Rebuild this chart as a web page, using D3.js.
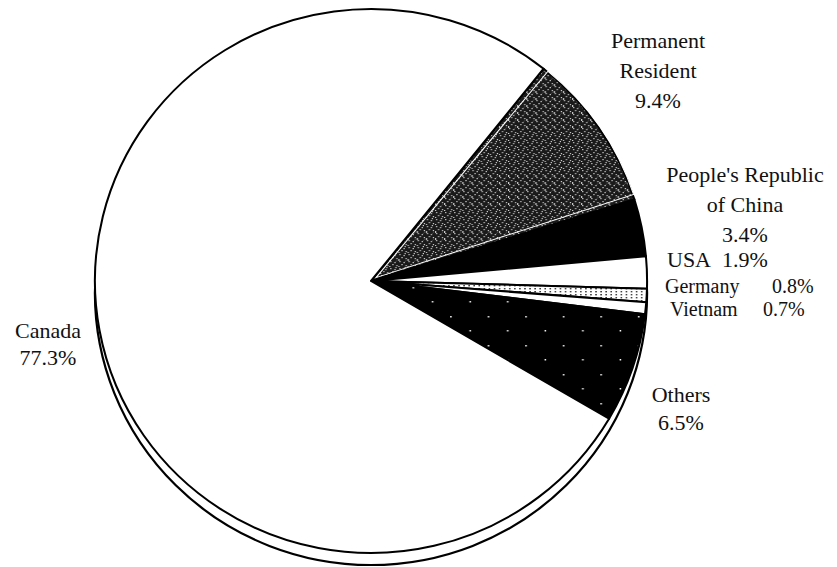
<!DOCTYPE html>
<html>
<head>
<meta charset="utf-8">
<script src="https://cdn.jsdelivr.net/npm/d3@7"></script>
<style>
  body { margin: 0; background: #fff; }
  text { font-size: 22px; fill: #111; }
</style>
</head>
<body>
<div id="chart"></div>
<script>
// data, clockwise from the top-right edge of Canada
var categories = ["Permanent Resident", "People's Republic of China", "USA", "Germany", "Vietnam", "Others", "Canada"];
var shares = [9.4, 3.4, 1.9, 0.8, 0.7, 6.5, 77.3];
var shareLabels = ["9.4%", "3.4%", "1.9%", "0.8%", "0.7%", "6.5%", "77.3%"];

var W = 837, H = 567;
var cx = 371, cy = 281, R = 272;
var depth = 12;
var serif = "'Liberation Serif', 'Times New Roman', Times, Tinos, 'Nimbus Roman', 'Nimbus Roman No9 L', 'FreeSerif', 'Noto Serif', 'DejaVu Serif', serif";

var svg = d3.select("#chart")
    .append("svg")
    .attr("width", W)
    .attr("height", H)
    .attr("font-family", serif);

var defs = svg.append("defs");

// dark speckled fill for Permanent Resident
var p1 = defs.append("pattern")
    .attr("id", "speckle")
    .attr("width", 9).attr("height", 7)
    .attr("patternUnits", "userSpaceOnUse");
p1.append("rect").attr("width", 9).attr("height", 7).attr("fill", "#1a1a1a");
[[1,1],[5,2],[3,4],[7,5],[0,6],[6,0]].forEach(function(p){
    p1.append("rect").attr("x", p[0]).attr("y", p[1]).attr("width", 1.2).attr("height", 1.2).attr("fill", "#cfcfcf");
});

// black with sparse white dots (Others)
var p2 = defs.append("pattern")
    .attr("id", "stars")
    .attr("width", 37).attr("height", 29)
    .attr("patternUnits", "userSpaceOnUse");
p2.append("rect").attr("width", 37).attr("height", 29).attr("fill", "#000");
p2.append("rect").attr("x", 4).attr("y", 6).attr("width", 1.5).attr("height", 1.5).attr("fill", "#fff");
p2.append("rect").attr("x", 23).attr("y", 20).attr("width", 1.5).attr("height", 1.5).attr("fill", "#fff");

// white with dark stipple (Germany)
var p3 = defs.append("pattern")
    .attr("id", "stipple")
    .attr("width", 5).attr("height", 3)
    .attr("patternUnits", "userSpaceOnUse");
p3.append("rect").attr("width", 5).attr("height", 3).attr("fill", "#fff");
p3.append("rect").attr("x", 1).attr("y", 1).attr("width", 1.4).attr("height", 1.4).attr("fill", "#222");

var fills = ["url(#speckle)", "#000", "#fff", "url(#stipple)", "#fff", "url(#stars)", "#fff"];

var startDeg = 38.7;
var pie = d3.pie()
    .sort(null)
    .startAngle(startDeg * Math.PI / 180)
    .endAngle(startDeg * Math.PI / 180 + 2 * Math.PI);

var arc = d3.arc().innerRadius(0).outerRadius(R);

var g = svg.append("g")
    .attr("transform", "translate(" + cx + "," + cy + ") scale(1.015,1)");

// side wall of the tilted pie
g.append("circle")
    .attr("cx", 0)
    .attr("cy", depth)
    .attr("r", R)
    .style("fill", "#fff")
    .style("stroke", "#000")
    .style("stroke-width", 2.2);

g.append("circle")
    .attr("r", R)
    .style("fill", "#fff")
    .style("stroke", "none");

var slices = g.selectAll("path.slice")
    .data(pie(shares))
    .enter()
    .append("path")
    .attr("class", "slice")
    .attr("d", arc)
    .style("fill", function(d, i){ return fills[i]; })
    .style("stroke", "#000")
    .style("stroke-width", 2)
    .style("stroke-linejoin", "round");

// thin white line just inside the Permanent Resident wedge
var pr = pie(shares)[0];
g.append("path")
    .attr("d", d3.arc().innerRadius(0).outerRadius(R - 5)({
        startAngle: pr.startAngle + 0.012,
        endAngle: pr.endAngle - 0.012
    }))
    .attr("transform", "translate(" + (Math.sin((pr.startAngle + pr.endAngle) / 2) * 6) + "," + (-Math.cos((pr.startAngle + pr.endAngle) / 2) * 6) + ")")
    .style("fill", "none")
    .style("stroke", "#fff")
    .style("stroke-width", 1);

// labels
var labelLines = [
    {lines: ["Permanent", "Resident", shareLabels[0]], x: 658, y: 48, dy: 30, anchor: "middle"},
    {lines: ["People's Republic", "of China", shareLabels[1]], x: 745, y: 182, dy: 30, anchor: "middle"},
    {lines: ["Others", shareLabels[5]], x: 681, y: 402, dy: 28, anchor: "middle"},
    {lines: ["Canada", shareLabels[6]], x: 48, y: 338, dy: 27, anchor: "middle"}
];

labelLines.forEach(function(l){
    var t = svg.append("text")
        .attr("font-family", serif)
        .attr("text-anchor", l.anchor)
        .attr("x", l.x)
        .attr("y", l.y);
    l.lines.forEach(function(s, j){
        t.append("tspan")
            .attr("x", l.x)
            .attr("y", l.y + j * l.dy)
            .text(s);
    });
});

// the three small ones sit name + share on one line
var small = [
    {name: categories[2], share: shareLabels[2], x1: 667, x2: 722, y: 267, size: 22},
    {name: categories[3], share: shareLabels[3], x1: 665, x2: 772, y: 293, size: 20},
    {name: categories[4], share: shareLabels[4], x1: 670, x2: 763, y: 316, size: 20}
];

small.forEach(function(s){
    svg.append("text").attr("font-family", serif).style("font-size", s.size + "px").attr("x", s.x1).attr("y", s.y).text(s.name);
    svg.append("text").attr("font-family", serif).style("font-size", s.size + "px").attr("x", s.x2).attr("y", s.y).text(s.share);
});
</script>
</body>
</html>
